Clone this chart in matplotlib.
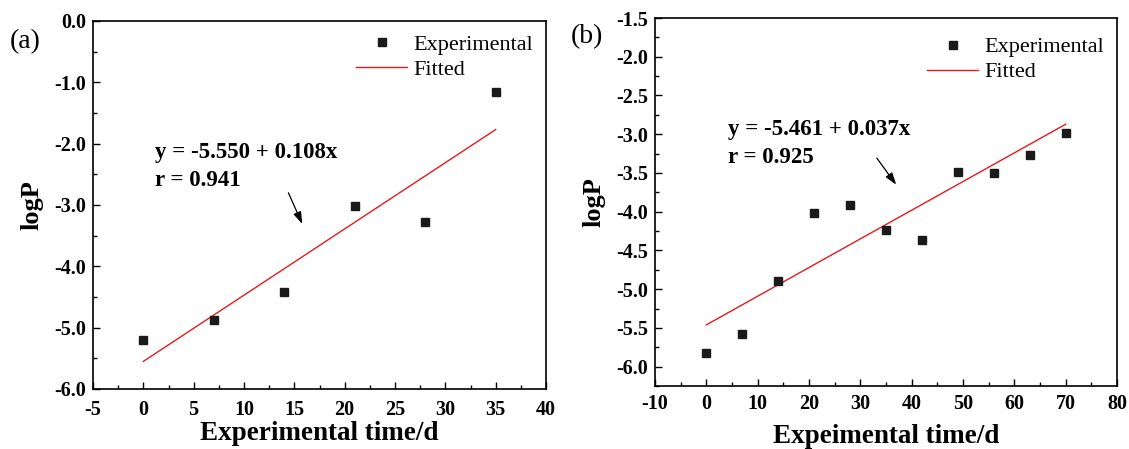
import matplotlib
matplotlib.use("Agg")
import matplotlib.pyplot as plt
from matplotlib.ticker import MultipleLocator, FormatStrFormatter

plt.rcParams['font.family'] = ['Liberation Serif', 'DejaVu Serif']
plt.rcParams['axes.unicode_minus'] = False

# panel (a)
time_a = [0, 7, 14, 21, 28, 35]
logp_a = [-5.20, -4.88, -4.42, -3.02, -3.27, -1.15]
fit_a = (-5.550, 0.108)

# panel (b)
time_b = [0, 7, 14, 21, 28, 35, 42, 49, 56, 63, 70]
logp_b = [-5.82, -5.575, -4.89, -4.02, -3.92, -4.23, -4.36, -3.49, -3.50, -3.27, -2.98]
fit_b = (-5.461, 0.037)

fig = plt.figure(figsize=(11.29, 4.49), dpi=100)
W, H = 1129, 449
ax1 = fig.add_axes([93 / W, 1 - 389 / H, (546 - 93) / W, (389 - 21) / H])
ax2 = fig.add_axes([655 / W, 1 - 386 / H, (1117 - 655) / W, (386 - 18) / H])


def panel(ax, x, y, fit, xlim, ylim, xmaj, ymaj, xlabel, eq, txt_xy, arr_from, arr_to,
          xpad, xlpad, leg_y):
    a, b = fit
    ax.plot(x, y, 's', color='#1a1a1a', ms=6.2, label='Experimental', zorder=3)
    xf = [x[0], x[-1]]
    ax.plot(xf, [a + b * v for v in xf], '-', color='#e8191c', lw=1.0, label='Fitted')
    ax.set_xlim(*xlim)
    ax.set_ylim(*ylim)
    ax.xaxis.set_major_locator(MultipleLocator(xmaj))
    ax.xaxis.set_minor_locator(MultipleLocator(xmaj / 2))
    ax.yaxis.set_major_locator(MultipleLocator(ymaj))
    ax.yaxis.set_minor_locator(MultipleLocator(ymaj / 2))
    ax.yaxis.set_major_formatter(FormatStrFormatter('%.1f'))
    ax.tick_params(which='both', direction='in', top=False, right=False,
                   labelsize=14.5, width=1.0)
    ax.tick_params(which='major', length=5, pad=5)
    ax.tick_params(axis='x', which='major', pad=xpad)
    ax.tick_params(which='minor', length=3)
    for lab in ax.get_xticklabels() + ax.get_yticklabels():
        lab.set_fontweight('bold')
    for s in ax.spines.values():
        s.set_linewidth(1.2)
    ax.set_xlabel(xlabel, fontsize=19.5, fontweight='bold', labelpad=xlpad)
    ax.set_ylabel('logP', fontsize=19, fontweight='bold', labelpad=8)
    ax.text(txt_xy[0], txt_xy[1], eq, fontsize=16.5, fontweight='bold',
            va='top', ha='left', linespacing=1.45)
    ax.annotate('', xy=arr_to, xytext=arr_from,
                arrowprops=dict(arrowstyle='-|>,head_length=0.6,head_width=0.2',
                                color='black', lw=0.9, mutation_scale=12))
    ax.legend(loc='upper right', bbox_to_anchor=(1.0, leg_y), frameon=False,
              fontsize=16, handlelength=2.3, handletextpad=0.25,
              borderaxespad=0.2, labelspacing=0.2)


panel(ax1, time_a, logp_a, fit_a, (-5, 40), (-6.0, 0.0), 5, 1.0,
      'Experimental time/d', 'y = -5.550 + 0.108x\nr = 0.941',
      (1.2, -1.97), (14.3, -2.76), (15.9, -3.35), 8, 1, 1.0)
panel(ax2, time_b, logp_b, fit_b, (-10, 80), (-6.25, -1.5), 10, 0.5,
      'Expeimental time/d', 'y = -5.461 + 0.037x\nr = 0.925',
      (4.2, -2.80), (32.9, -3.28), (37.3, -3.68), 6, 7, 0.985)

fig.text(10 / W, 1 - 42 / H, '(a)', fontsize=20, va='center')
fig.text(571 / W, 1 - 37 / H, '(b)', fontsize=20, va='center')

fig.savefig('out.png', dpi=100)
